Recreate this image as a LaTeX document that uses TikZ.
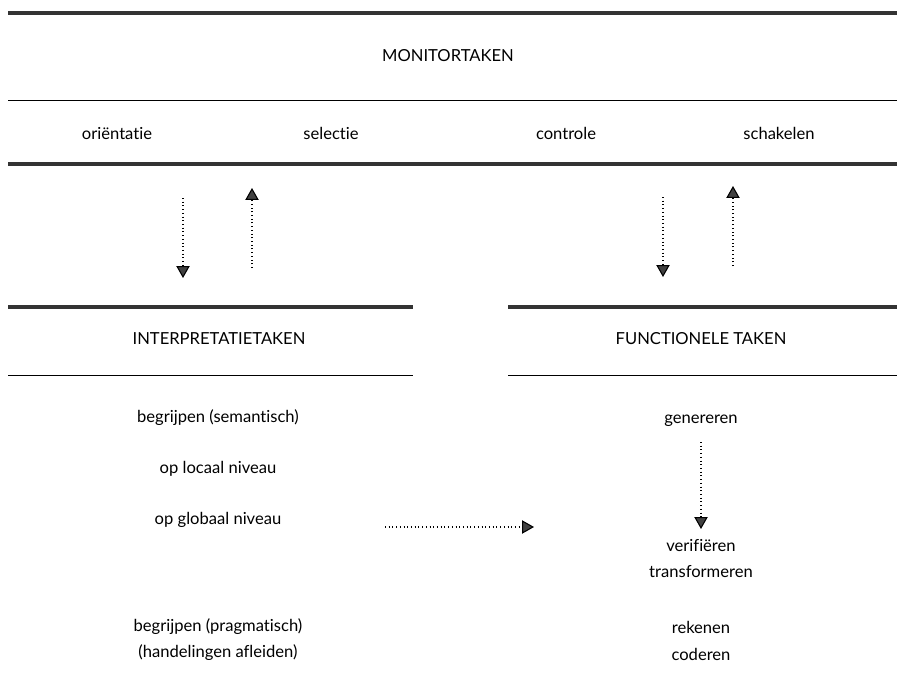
\documentclass[tikz,border=0pt]{standalone}
\usepackage{fontspec}
\setmainfont[Ligatures={NoCommon}]{Lato}
\usetikzlibrary{arrows.meta}
\tikzset{
  bar/.style={line width=3.2pt, black!80},
  rule/.style={line width=0.6pt},
  lbl/.style={font=\fontsize{12.5}{15}\selectfont, text height=1.8ex, text depth=0.5ex},
  pijl/.style={dotted, line width=0.8pt, -{Triangle[width=10pt,length=9pt,fill=black!75]}},
}
\begin{document}
\begin{tikzpicture}[x=0.0265cm, y=-0.0265cm]
      \useasboundingbox (0,0) rectangle (897,691);
      % balken en lijnen
      \draw[bar] (8,13) -- (897,13);
      \draw[rule] (8,100) -- (897,100);
      \draw[bar] (8,164) -- (897,164);
      \draw[bar] (8,307) -- (413,307);
      \draw[bar] (508,307) -- (897,307);
      \draw[rule] (8,375) -- (413,375);
      \draw[rule] (508,375) -- (897,375);
      % teksten
      \draw
        (448,57) node[lbl] (monitor){MONITORTAKEN}
        (117,135) node[lbl] (orient){oriëntatie}
        (331,135) node[lbl] (selectie){selectie}
        (566,135) node[lbl] (controle){controle}
        (779,135) node[lbl] (schakelen){schakelen}
        (219,340) node[lbl] (interp){INTERPRETATIETAKEN}
        (701,340) node[lbl] (funct){FUNCTIONELE TAKEN}
        (218,418) node[lbl] (semant){begrijpen (semantisch)}
        (218,469) node[lbl] (locaal){op locaal niveau}
        (218,520) node[lbl] (globaal){op globaal niveau}
        (218,627) node[lbl] (pragm){begrijpen (pragmatisch)}
        (218,653) node[lbl] (afleiden){(handelingen afleiden)}
        (701,419) node[lbl] (gener){genereren}
        (701,547) node[lbl] (verif){verifiëren}
        (701,573) node[lbl] (transf){transformeren}
        (701,629) node[lbl] (reken){rekenen}
        (701,656) node[lbl] (coder){coderen};
      % eindpunten van de pijlen
      \coordinate (a1) at (183,198);
      \coordinate (a2) at (183,278);
      \coordinate (b1) at (252,268);
      \coordinate (b2) at (252,188);
      \coordinate (c1) at (663,197);
      \coordinate (c2) at (663,277);
      \coordinate (d1) at (733,266);
      \coordinate (d2) at (733,186);
      \coordinate (e1) at (385,527);
      \coordinate (e2) at (534,527);
      \coordinate (f1) at (701,442);
      \coordinate (f2) at (701,529);
      \begin{scope}[pijl]
        \draw (a1) to (a2);
        \draw (b1) to (b2);
        \draw (c1) to (c2);
        \draw (d1) to (d2);
        \draw (e1) to (e2);
        \draw (f1) to (f2);
      \end{scope}
    \end{tikzpicture}
\end{document}
